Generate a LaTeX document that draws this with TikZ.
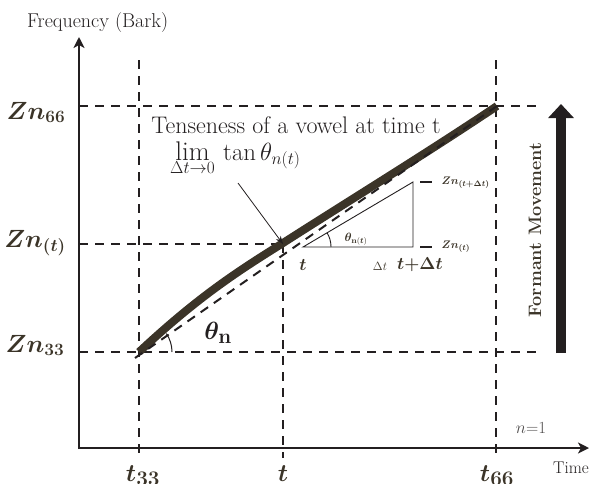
\documentclass[tikz,border=0pt]{standalone}
\usepackage{bm}
\usetikzlibrary{arrows.meta}
\definecolor{brn}{HTML}{3B3428}
\definecolor{ink}{HTML}{231F20}
\begin{document}
\begin{tikzpicture}[x=1pt,y=-1pt,
  dsh/.style={draw=ink,line width=2pt,dash pattern=on 9pt off 7pt},
  axis/.style={draw=ink,line width=2.4pt,-{Stealth[length=11pt,width=11pt,inset=3pt]}},
  zlab/.style={text=brn,font=\fontsize{25}{27}\selectfont,anchor=base},
  tlab/.style={text=brn,font=\fontsize{29}{31}\selectfont,anchor=base},
  small/.style={text=brn,font=\fontsize{11}{13}\selectfont}]
\useasboundingbox (0,0) rectangle (593,483);
\clip (0,0) rectangle (593,483);
% coordinates
\coordinate (Ytop) at (79,37);
\coordinate (Xend) at (589,448);
\coordinate (A) at (139,352);
\coordinate (P) at (283,244);
\coordinate (B) at (497,106);
% dashed grid
\draw[dsh] (79,106) -- (542,106);
\draw[dsh] (79,352) -- (542,352);
\draw[dsh] (79,244) -- (P);
\draw[dsh] (139,60) -- (139,458);
\draw[dsh] (P) -- (283,458);
\draw[dsh] (496,60) -- (496,458);
% axes
\draw[axis] (79,449) -- (Ytop);
\draw[axis] (78,448) -- (Xend);
% curve
\draw[brn,line width=8pt,line cap=butt,line join=round] (A) .. controls (200,295) and (240,270) .. (283,243) .. controls (355,197) and (430,151) .. (B);
\draw[dsh] (135,358) -- (B);
% angle at A
\draw[ink,line width=1pt] (172,352) arc[start angle=0,end angle=-34,radius=33];
\node[text=ink,font=\fontsize{28}{30}\selectfont] (thn) at (218,333) {$\bm{\theta}_{\mathbf{n}}$};
% triangle
\coordinate (T1) at (303,247);
\coordinate (T2) at (413,247);
\coordinate (T3) at (413,182);
\draw[ink,line width=0.9pt] (T1) -- (T2) -- (T3) -- cycle;
\draw[ink,line width=0.9pt] (331,247) arc[start angle=0,end angle=-31,radius=28];
\node[text=brn,font=\fontsize{12}{14}\selectfont] (thnt) at (356,239) {$\bm{\theta}_{\mathbf{n}(\bm{t})}$};
\node[text=brn,font=\fontsize{16}{18}\selectfont] (tt) at (303,265) {$\bm{t}$};
\node[text=brn,font=\fontsize{13}{15}\selectfont] (dt) at (380,266) {$\Delta t$};
\node[text=brn,font=\fontsize{16}{18}\selectfont] (tdt) at (420,265) {$\bm{t{+}\Delta t}$};
% ticks
\coordinate (k1a) at (420,182); \coordinate (k1b) at (432,182);
\coordinate (k2a) at (420,247); \coordinate (k2b) at (432,247);
\draw[ink,line width=1.6pt] (k1a) -- (k1b);
\draw[ink,line width=1.6pt] (k2a) -- (k2b);
\node[small,anchor=west] (zdt) at (438,183) {$\bm{Zn_{(t+\Delta t)}}$};
\node[small,anchor=west] (zt2) at (438,247) {$\bm{Zn_{(t)}}$};
% annotation
\node[text=ink,font=\fontsize{24}{26}\selectfont,anchor=base] (ten) at (296,133) {Tenseness of a vowel at time t};
\node[text=ink,font=\fontsize{23}{25}\selectfont,anchor=base west,inner sep=0pt] (lim) at (170,160) {$\mathop{\mbox{\fontsize{27}{29}\selectfont lim}}\limits_{\Delta t\to 0}\,\tan\theta_{n(t)}$};
\coordinate (as) at (238,183);
\draw[ink,line width=0.8pt,-{Stealth[length=8pt,width=6pt]}] (as) -- (P);
% left labels
\node[zlab] (z66) at (36,119) {$\bm{Zn_{66}}$};
\node[zlab] (zt) at (35,247) {$\bm{Zn_{(t)}}$};
\node[zlab] (z33) at (35,352) {$\bm{Zn_{33}}$};
% bottom labels
\node[tlab] (t33) at (143,481) {$\bm{t_{33}}$};
\node[tlab] (tb) at (283,481) {$\bm{t}$};
\node[tlab] (t66) at (497,481) {$\bm{t_{66}}$};
% axes labels
\node[text=ink,font=\fontsize{20}{22}\selectfont,anchor=base west,inner sep=0pt] (fb) at (27,27) {Frequency (Bark)};
\node[text=ink,font=\fontsize{17}{19}\selectfont,anchor=base,inner sep=0pt] (time) at (571,473) {Time};
\node[text=ink!80,font=\fontsize{17}{19}\selectfont,anchor=base,inner sep=0pt] (n1) at (531,433) {$n$=1};
% formant movement
\coordinate (fa) at (561,353);
\coordinate (fb2) at (561,104);
\draw[ink,line width=10pt,-{Triangle[length=14pt,width=25pt]}] (fa) -- (fb2);
\node[text=brn,rotate=90,font=\bfseries\fontsize{18}{20}\selectfont,anchor=base,inner sep=0pt] (fm) at (541,230) {Formant Movement};
\end{tikzpicture}
\end{document}
